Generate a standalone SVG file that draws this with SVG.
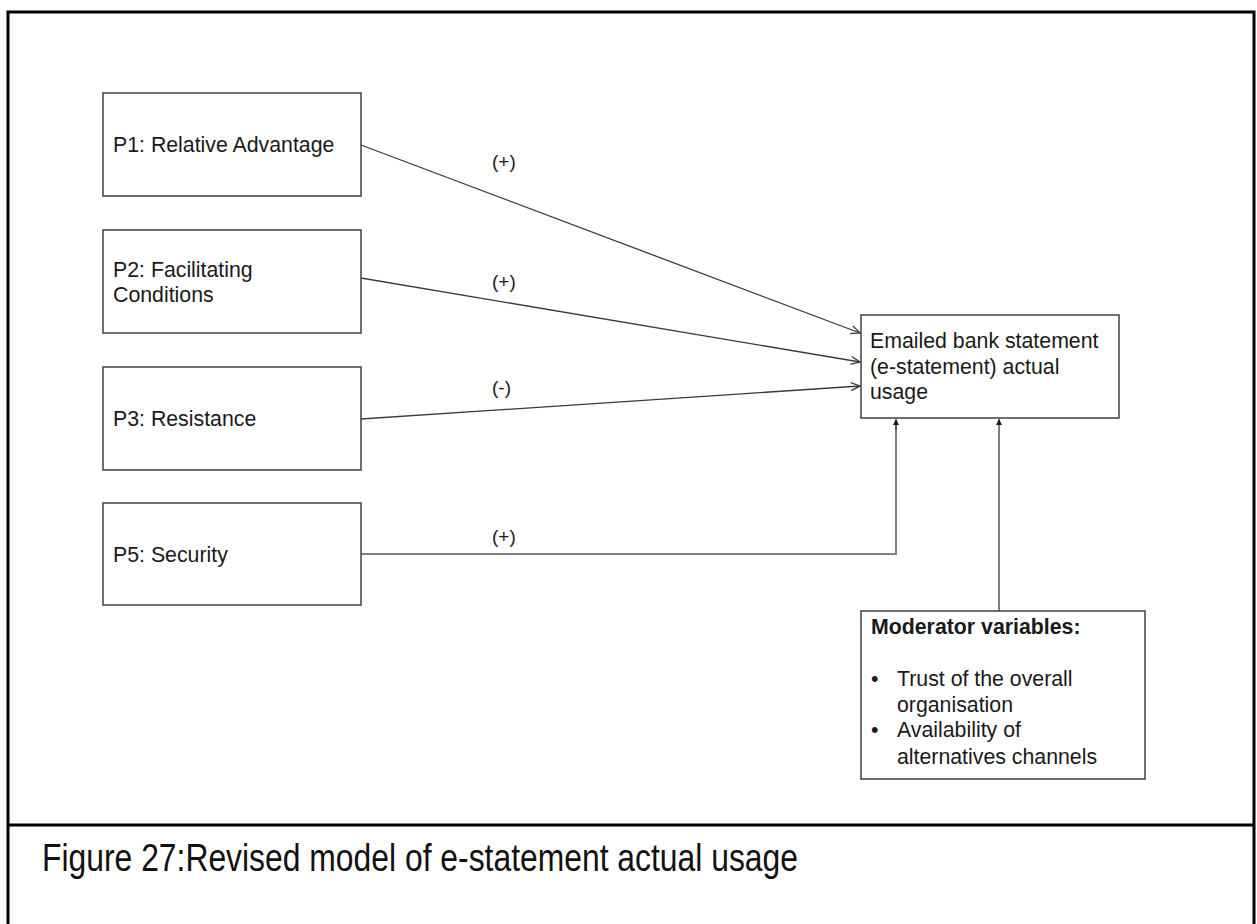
<svg xmlns="http://www.w3.org/2000/svg" width="1257" height="924" viewBox="0 0 1257 924">
  <style>
    .frame { stroke: #000; stroke-width: 3; fill: none; }
    .box { fill: #fff; stroke: #404040; stroke-width: 1.5; }
    .lbl { font-family: "Liberation Sans", Arial, sans-serif; font-size: 21.3px; fill: #1a1a1a; }
    .bold { font-weight: bold; }
    .sign { font-family: "Liberation Sans", Arial, sans-serif; font-size: 19px; fill: #1a1a1a; }
    .conn { stroke: #3a3a3a; stroke-width: 1.3; fill: none; }
    .conn-grey { stroke: #808080; stroke-width: 2; fill: none; }
    .caption { font-family: "Liberation Sans", Arial, sans-serif; font-size: 38px; fill: #111; }
  </style>
  <defs>
    <marker id="openArrow" markerUnits="userSpaceOnUse" markerWidth="12" markerHeight="10" refX="10" refY="5" orient="auto">
      <path d="M1,1 L10,5 L1,9" fill="none" stroke="#3a3a3a" stroke-width="1.3"/>
    </marker>
    <marker id="solidArrow" markerUnits="userSpaceOnUse" markerWidth="8" markerHeight="8" refX="6" refY="4" orient="auto">
      <path d="M0,1 L6,4 L0,7 Z" fill="#1a1a1a"/>
    </marker>
  </defs>

  <rect width="1257" height="924" fill="#fff"/>

  <!-- page frame with caption row -->
  <g id="frame">
    <path class="frame" d="M8,930 L8,12 L1254,12 L1254,930"/>
    <line class="frame" x1="8" y1="825" x2="1254" y2="825"/>
  </g>

  <!-- connectors -->
  <g id="connectors">
    <line class="conn" x1="361" y1="145" x2="860" y2="333" marker-end="url(#openArrow)"/>
    <line class="conn" x1="361" y1="278" x2="860" y2="362" marker-end="url(#openArrow)"/>
    <line class="conn" x1="361" y1="419" x2="860" y2="386" marker-end="url(#openArrow)"/>
    <path class="conn-grey" d="M361,554 L896,554 L896,424"/>
    <line class="conn" x1="896" y1="430" x2="896" y2="419" marker-end="url(#solidArrow)"/>
    <line class="conn" x1="999" y1="611" x2="999" y2="419" marker-end="url(#solidArrow)"/>
    <text class="sign" x="492" y="168">(+)</text>
    <text class="sign" x="492" y="288">(+)</text>
    <text class="sign" x="492" y="394">(-)</text>
    <text class="sign" x="492" y="543">(+)</text>
  </g>

  <g id="p1">
    <rect class="box" x="103" y="93" width="258" height="103"/>
    <text class="lbl" x="113" y="152">P1: Relative Advantage</text>
  </g>
  <g id="p2">
    <rect class="box" x="103" y="230" width="258" height="103"/>
    <text class="lbl" x="113" y="277">P2: Facilitating</text>
    <text class="lbl" x="113" y="302">Conditions</text>
  </g>
  <g id="p3">
    <rect class="box" x="103" y="367" width="258" height="103"/>
    <text class="lbl" x="113" y="426">P3: Resistance</text>
  </g>
  <g id="p5">
    <rect class="box" x="103" y="503" width="258" height="102"/>
    <text class="lbl" x="113" y="562">P5: Security</text>
  </g>

  <g id="usage">
    <rect class="box" x="861" y="315" width="258" height="103"/>
    <text class="lbl" x="870" y="348">Emailed bank statement</text>
    <text class="lbl" x="870" y="374">(e-statement) actual</text>
    <text class="lbl" x="870" y="399">usage</text>
  </g>

  <g id="moderators">
    <rect class="box" x="861" y="611" width="284" height="168"/>
    <text class="lbl bold" x="871" y="634">Moderator variables:</text>
    <text class="lbl" x="871" y="686">•</text>
    <text class="lbl" x="897" y="686">Trust of the overall</text>
    <text class="lbl" x="897" y="712">organisation</text>
    <text class="lbl" x="871" y="737">•</text>
    <text class="lbl" x="897" y="737">Availability of</text>
    <text class="lbl" x="897" y="764">alternatives channels</text>
  </g>

  <g id="caption">
    <text class="caption" x="42" y="871" textLength="756" lengthAdjust="spacingAndGlyphs">Figure 27:Revised model of e-statement actual usage</text>
  </g>
</svg>
